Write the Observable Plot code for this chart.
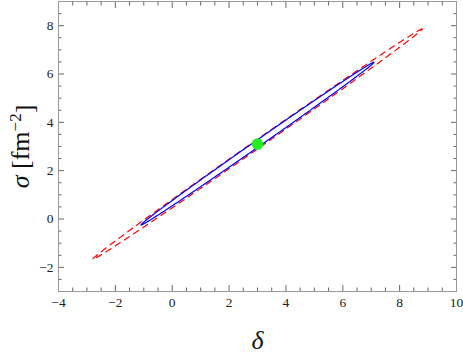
<!DOCTYPE html>
<html><head><meta charset="utf-8">
<script src="https://cdn.jsdelivr.net/npm/d3@7"></script>
<script src="https://cdn.jsdelivr.net/npm/@observablehq/plot@0.6"></script>
<style>body{margin:0;background:#fff}</style>
</head><body><div id="chart"></div>
<script>
// ---- data ----
const xMajorTicks = [-4, -2, 0, 2, 4, 6, 8, 10];
const xMinorTicks = [-3.5, -3, -2.5, -1.5, -1, -0.5, 0.5, 1, 1.5, 2.5, 3, 3.5, 4.5, 5, 5.5, 6.5, 7, 7.5, 8.5, 9, 9.5];
const yMajorTicks = [-2, 0, 2, 4, 6, 8];
const yMinorTicks = [-2.5, -1.5, -1, -0.5, 0.5, 1, 1.5, 2.5, 3, 3.5, 4.5, 5, 5.5, 6.5, 7, 7.5, 8.5];
const xLabel = "δ";
const yLabel = "σ [fm−2]";

// confidence ellipses: center, half-extent in x and y, correlation
const ellipseNames   = ["outer", "inner"];
const ellipseCenterX = [3.0, 3.0];
const ellipseCenterY = [3.1, 3.12];
const ellipseHalfX   = [5.8, 4.1];
const ellipseHalfY   = [4.77, 3.37];
const ellipseCorr    = [0.99912, 0.99887];

const pointX = [3.0];
const pointY = [3.1];

// ---- build ellipse outlines from parameters ----
function ellipsePoints(i) {
  const s = Math.sqrt(1 - ellipseCorr[i] ** 2);
  return d3.range(0, 361).map(deg => {
    const t = deg * Math.PI / 180;
    return {
      name: ellipseNames[i],
      x: ellipseCenterX[i] + ellipseHalfX[i] * Math.cos(t),
      y: ellipseCenterY[i] + ellipseHalfY[i] * (ellipseCorr[i] * Math.cos(t) + s * Math.sin(t))
    };
  });
}
const outer = ellipsePoints(0);
const inner = ellipsePoints(1);
const points = pointX.map((x, i) => ({x, y: pointY[i]}));

const serif = "'Liberation Serif', 'Times New Roman', Times, serif";
const tickColor = "#666";

const chart = Plot.plot({
  width: 463,
  height: 354,
  marginLeft: 58,
  marginRight: 7,
  marginTop: 1,
  marginBottom: 63,
  style: {fontFamily: serif, fontSize: "13.5px", background: "white", color: "#222"},
  x: {domain: [-4, 10]},
  y: {domain: [-3, 9]},
  marks: [
    Plot.line(outer, {x: "x", y: "y", stroke: "#ff0000", strokeWidth: 1.2, strokeDasharray: "6,5"}),
    Plot.line(inner, {x: "x", y: "y", stroke: "#0000ff", strokeWidth: 1.2}),
    Plot.dot(points, {x: "x", y: "y", r: 5.8, fill: "#22ee22", stroke: "none"}),
    // inward ticks on all four sides
    Plot.axisX(xMajorTicks, {anchor: "bottom", tickSize: -6, tickFormat: () => "", label: null, color: tickColor}),
    Plot.axisX(xMinorTicks, {anchor: "bottom", tickSize: -3.5, tickFormat: () => "", label: null, color: tickColor}),
    Plot.axisX(xMajorTicks, {anchor: "top", tickSize: -6, tickFormat: () => "", label: null, color: tickColor}),
    Plot.axisX(xMinorTicks, {anchor: "top", tickSize: -3.5, tickFormat: () => "", label: null, color: tickColor}),
    Plot.axisY(yMajorTicks, {anchor: "left", tickSize: -6, tickFormat: () => "", label: null, color: tickColor}),
    Plot.axisY(yMinorTicks, {anchor: "left", tickSize: -3.5, tickFormat: () => "", label: null, color: tickColor}),
    Plot.axisY(yMajorTicks, {anchor: "right", tickSize: -6, tickFormat: () => "", label: null, color: tickColor}),
    Plot.axisY(yMinorTicks, {anchor: "right", tickSize: -3.5, tickFormat: () => "", label: null, color: tickColor}),
    // tick labels
    Plot.axisX(xMajorTicks, {anchor: "bottom", tickSize: 0, tickPadding: 6, label: null, fontSize: 13.5, color: "#222"}),
    Plot.axisY(yMajorTicks, {anchor: "left", tickSize: 0, tickPadding: 5, label: null, fontSize: 13.5, color: "#222"}),
    Plot.frame({stroke: "#999"}),
    // axis titles
    Plot.text([xLabel], {frameAnchor: "bottom", dy: 49, lineAnchor: "middle", textAnchor: "middle", text: d => d, fontSize: 26, fontStyle: "italic", fill: "#111"}),
    Plot.text([yLabel], {frameAnchor: "left", dx: -38, rotate: -90, textAnchor: "middle", lineAnchor: "middle", text: d => d, fontSize: 26, fill: "#111"})
  ]
});

// tick label font size
for (const g of chart.querySelectorAll('g[aria-label$="tick label"]')) {
  g.setAttribute("font-size", "13.5");
  g.style.fontSize = "13.5px";
}

// superscript and italic sigma in y title
for (const t of chart.querySelectorAll("text")) {
  if (t.textContent === yLabel) {
    t.textContent = "";
    const ns = "http://www.w3.org/2000/svg";
    const parts = [
      {s: "σ", style: "italic"},
      {s: " [fm"},
      {s: "−2", dy: "-0.45em", size: "17px"},
      {s: "]", dy: "0.45em"}
    ];
    for (const p of parts) {
      const ts = document.createElementNS(ns, "tspan");
      ts.textContent = p.s;
      if (p.style) ts.setAttribute("font-style", p.style);
      if (p.dy) ts.setAttribute("dy", p.dy);
      if (p.size) ts.setAttribute("font-size", p.size);
      t.appendChild(ts);
    }
  }
}
document.getElementById("chart").appendChild(chart);
</script>
</body></html>
